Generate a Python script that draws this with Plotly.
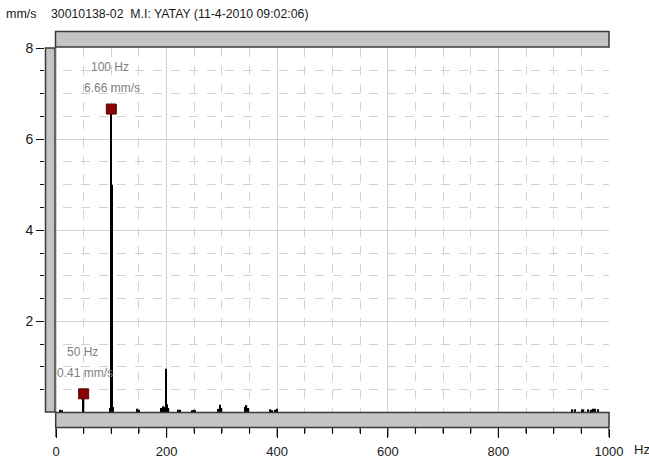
import plotly.graph_objects as go

# Spectrum lines: frequency (Hz) and amplitude (mm/s)
line_hz = [8, 11, 50, 98, 100, 101.5, 103, 147, 150, 191, 193.5, 196, 198.5, 201, 203.5,
           221, 225, 246, 249, 252, 294, 297, 299.5, 342, 344.5, 347, 388, 391, 397, 400,
           934, 938, 951, 954, 963, 967, 971, 975, 980]
line_amp = [0.06, 0.05, 0.41, 0.1, 6.66, 5.0, 0.12, 0.08, 0.06, 0.1, 0.14, 0.12, 0.96, 0.18, 0.1,
            0.06, 0.06, 0.05, 0.06, 0.05, 0.08, 0.17, 0.1, 0.12, 0.16, 0.1, 0.07, 0.05, 0.06, 0.08,
            0.07, 0.07, 0.06, 0.07, 0.07, 0.06, 0.08, 0.08, 0.07]

# Marked peaks
peak_hz = [50, 100]
peak_amp = [0.41, 6.66]

x_major = [0, 200, 400, 600, 800, 1000]
x_labels = ["0", "200", "400", "600", "800", "1000"]
x_minor = [50, 100, 150, 250, 300, 350, 450, 500, 550, 650, 700, 750, 850, 900, 950]
y_major = [2, 4, 6, 8]
y_labels = ["2", "4", "6", "8"]
y_minor = [0.5, 1, 1.5, 2.5, 3, 3.5, 4.5, 5, 5.5, 6.5, 7, 7.5]

title_unit = "mm/s"
title_text = "30010138-02  M.I: YATAY (11-4-2010 09:02:06)"

W, H = 649, 462
# The plotting area runs under the grey side strips, so the axis ranges
# reach a little past 0 Hz and 0 mm/s to leave room for them.
ML, MR, MT, MB = 45, 40, 48, 34
PW, PH = W - ML - MR, H - MT - MB
X_RANGE = [-19.9, 1000]
Y_RANGE = [-0.34, 8]

FONT = "Liberation Sans, Arial, sans-serif"
TXT = "#1a1a1a"
LABEL_GRAY = "#808080"
GRID = "#d2d2d2"
BAR_FILL = "#c4c4c4"
BAR_EDGE = "#3a3a3a"
TICK = "#111111"


def px_x(p):
    return (p - ML) / PW


def px_y(p):
    return (H - MB - p) / PH


fig = go.Figure()

fig.add_trace(go.Bar(
    x=line_hz, y=line_amp, width=2.4,
    marker=dict(color="#000000", line=dict(width=0)),
    hoverinfo="x+y", showlegend=False,
))

fig.add_trace(go.Scatter(
    x=peak_hz, y=peak_amp, mode="markers",
    marker=dict(symbol="square", size=10, color="#8b0000",
                line=dict(color="#5c0000", width=1)),
    cliponaxis=False, showlegend=False,
))

annotations = []
for hz, amp in zip(peak_hz, peak_amp):
    annotations.append(dict(x=hz, y=amp, xref="x", yref="y", text=f"{amp:.2f} mm/s",
                            showarrow=False, yshift=21, xshift=1,
                            font=dict(family=FONT, size=12, color=LABEL_GRAY)))
    annotations.append(dict(x=hz, y=amp, xref="x", yref="y", text=f"{hz} Hz",
                            showarrow=False, yshift=42, xshift=-1,
                            font=dict(family=FONT, size=12, color=LABEL_GRAY)))

annotations.append(dict(x=px_x(4), y=px_y(14), xref="paper", yref="paper", text=title_unit,
                        xanchor="left", yanchor="middle", showarrow=False,
                        font=dict(family=FONT, size=12.5, color=TXT)))
annotations.append(dict(x=px_x(49), y=px_y(14), xref="paper", yref="paper", text=title_text,
                        xanchor="left", yanchor="middle", showarrow=False,
                        font=dict(family=FONT, size=12.3, color=TXT)))
annotations.append(dict(x=px_x(632), y=px_y(449), xref="paper", yref="paper", text="Hz",
                        xanchor="left", yanchor="middle", showarrow=False,
                        font=dict(family=FONT, size=13, color=TXT)))

shapes = [
    # top strip
    dict(type="rect", xref="paper", yref="paper", layer="above",
         x0=px_x(55.5), x1=1, y0=px_y(47), y1=px_y(31.5),
         fillcolor=BAR_FILL, line=dict(color=BAR_EDGE, width=1.5)),
    # left strip
    dict(type="rect", xref="paper", yref="paper", layer="above",
         x0=px_x(45.5), x1=px_x(55), y0=px_y(412), y1=px_y(48),
         fillcolor=BAR_FILL, line=dict(color=BAR_EDGE, width=1.5)),
    # bottom strip
    dict(type="rect", xref="paper", yref="paper", layer="above",
         x0=px_x(55.7), x1=1, y0=px_y(427.5), y1=px_y(412.5),
         fillcolor=BAR_FILL, line=dict(color=BAR_EDGE, width=1.5)),
]

# frequency tick marks hanging below the bottom strip
for v in x_major:
    shapes.append(dict(type="line", xref="x", yref="paper", layer="above",
                       x0=v, x1=v, y0=px_y(428), y1=px_y(437),
                       line=dict(color=TICK, width=1.2)))
for v in x_minor:
    shapes.append(dict(type="line", xref="x", yref="paper", layer="above",
                       x0=v, x1=v, y0=px_y(428), y1=px_y(433),
                       line=dict(color=TICK, width=1.2)))

fig.update_layout(
    width=W, height=H,
    margin=dict(l=ML, r=MR, t=MT, b=MB, pad=0, autoexpand=False),
    paper_bgcolor="white", plot_bgcolor="white",
    font=dict(family=FONT, size=13, color=TXT),
    showlegend=False,
    annotations=annotations,
    shapes=shapes,
    xaxis=dict(
        range=X_RANGE, tickmode="array", tickvals=x_major, ticktext=x_labels,
        ticks="outside", ticklen=9, tickwidth=1.2, tickcolor=TICK,
        ticklabelstandoff=2, automargin=False,
        showgrid=True, gridcolor=GRID, gridwidth=1,
        zeroline=False, showline=False,
        minor=dict(tickmode="array", tickvals=x_minor, ticks="outside", ticklen=5, tickwidth=1.2,
                   tickcolor=TICK, showgrid=True, gridcolor=GRID, griddash="dash"),
        tickfont=dict(family=FONT, size=13, color=TXT),
        fixedrange=True,
    ),
    yaxis=dict(
        range=Y_RANGE, tickmode="array", tickvals=y_major, ticktext=y_labels,
        ticks="outside", ticklen=8, tickwidth=1.2, tickcolor=TICK,
        automargin=False,
        showgrid=True, gridcolor=GRID, gridwidth=1,
        zeroline=False, showline=False,
        minor=dict(tickmode="array", tickvals=y_minor, ticks="outside", ticklen=4, tickwidth=1.2,
                   tickcolor=TICK, showgrid=True, gridcolor=GRID, griddash="dash"),
        tickfont=dict(family=FONT, size=14, color=TXT),
        fixedrange=True,
    ),
)

fig.write_html("out.html", config={"displayModeBar": False})
